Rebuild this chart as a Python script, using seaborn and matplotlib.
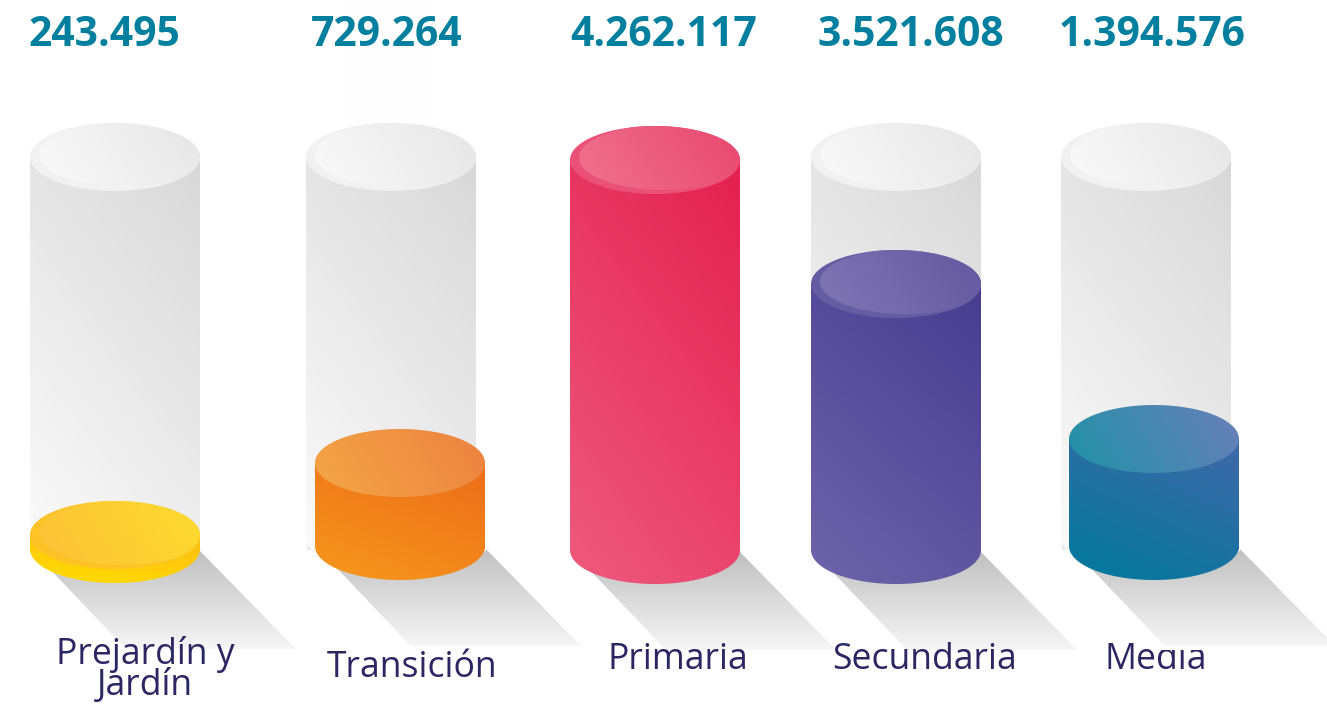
import numpy as np
import pandas as pd
import matplotlib
matplotlib.use("Agg")
import matplotlib.pyplot as plt
from matplotlib.path import Path
from matplotlib.patches import PathPatch
from matplotlib.colors import to_rgb
import seaborn as sns

# ---- data ----
categories = ["Prejardín y\nJardín", "Transición", "Primaria", "Secundaria", "Media"]
students = [243495, 729264, 4262117, 3521608, 1394576]
# drawn fill level of each cylinder (the picture is not proportional to the totals)
fill_levels = [15, 87, 390, 266, 111]
ghost_levels = [393, 393, 393, 393]

# ---- layout and style ----
W, H = 1327, 704
BASE_PX = 550
fill_centers = [115, 400, 655, 896, 1154]
fill_lift = [1, 4, 0, 0, 4]
ghost_centers = [115, 391, 896, 1146]
ghost_lift = [12, 12, 12, 12]
CYL_W = 170
SEMI_B = 34

value_xy = [(104, 36), (387, 36), (664, 36), (911, 36), (1152, 36)]
label_xy = [(145, 670), (412, 668), (678, 660), (925, 660), (1156, 660)]
label_z = [20, 20, 20, 20, 3]  # "Media" is tucked under its shadow in the reference
rims = [True, False, True, True, False]

# body lower-left, body upper-right, rim, top left, top right
fill_style = [
    ("#ffdd00", "#fcbd14", "#fdc226", "#fdc038", "#fcdb2e"),
    ("#f7981d", "#ec6c18", "#ee9a3e", "#f4a646", "#ec8240"),
    ("#ee5a7e", "#e42050", "#eb5078", "#f07490", "#e94870"),
    ("#6e64aa", "#483c90", "#665ca2", "#8278b6", "#64589f"),
    ("#007a9c", "#4068a8", "#2a8aa8", "#1f92a6", "#6a7fba"),
]
ghost_style = ("#fcfcfc", "#d8d8d8", "#f1f1f1", "#fbfbfb", "#e6e6e6")
VALUE_COLOR = "#007f9f"
LABEL_COLOR = "#2c2763"
BODY_ANGLE = (0.35, 0.65)
TOP_ANGLE = (0.8, 0.2)

sns.set_theme(style="white", rc={"font.family": ["Open Sans", "DejaVu Sans"]})
fig = plt.figure(figsize=(W / 100, H / 100), dpi=100)
ax = fig.add_axes([0, 0, 1, 1])

ghost_df = pd.DataFrame({"x": ghost_centers, "level": ghost_levels})
sns.barplot(data=ghost_df, x="x", y="level", native_scale=True, color="#e6e6e6",
            width=CYL_W / np.diff(ghost_centers).min(), saturation=1, ax=ax)
n_ghost = len(ax.patches)
fill_df = pd.DataFrame({"x": fill_centers, "level": fill_levels, "cat": categories})
sns.barplot(data=fill_df, x="x", y="level", hue="cat", native_scale=True, dodge=False,
            palette=[s[1] for s in fill_style], legend=False,
            width=CYL_W / np.diff(fill_centers).min(), saturation=1, ax=ax)
ghost_bars = sorted(ax.patches[:n_ghost], key=lambda p: p.get_x())
fill_bars = sorted(ax.patches[n_ghost:], key=lambda p: p.get_x())


def gradient(path, lo, hi, box, z, angle=(0.5, 0.5)):
    """Linear gradient clipped to a path. lo at lower-left, hi at upper-right."""
    x0, x1, y0, y1 = box
    u, v = np.meshgrid(np.linspace(0, 1, 128), np.linspace(0, 1, 128))
    t = (angle[0] * u + angle[1] * v)[..., None]
    img = (1 - t) * np.array(to_rgb(lo)) + t * np.array(to_rgb(hi))
    im = ax.imshow(img, extent=(x0, x1, y0, y1), origin="lower", aspect="auto", zorder=z,
                   interpolation="bilinear")
    im.set_clip_path(PathPatch(path, transform=ax.transData))
    return im


def ellipse(cx, cy, a, b, n=240):
    th = np.linspace(0, 2 * np.pi, n)
    return Path(np.c_[cx + a * np.cos(th), cy + b * np.sin(th)])


def inner_disc(cx, cy, a, b, dx, dy, db):
    """Offset disc, pulled back so that it stays inside the outer disc."""
    th = np.linspace(0, 2 * np.pi, 360)
    px = cx + dx + a * np.cos(th)
    py = cy + dy + (b - db) * np.sin(th)
    nx, ny = (px - cx) / a, (py - cy) / b
    r = np.maximum(np.hypot(nx, ny), 1)
    return Path(np.c_[cx + a * nx / r, cy + b * ny / r])


def cylinder(bar, lift, style, z, rim=True):
    x0 = bar.get_x()
    x1 = x0 + bar.get_width()
    cx, a = (x0 + x1) / 2, (x1 - x0) / 2
    top, base = bar.get_height(), lift
    th = np.linspace(np.pi, 2 * np.pi, 80)
    arc = np.c_[cx + a * np.cos(th), base + SEMI_B * np.sin(th)]
    body = Path(np.vstack([arc, [[x1, top], [x0, top], arc[0]]]))
    bar.set_zorder(z - 0.5)
    gradient(body, style[0], style[1], (x0, x1, base - SEMI_B, top), z, BODY_ANGLE)
    outer = ellipse(cx, top, a, SEMI_B)
    tbox = (x0, x1, top - SEMI_B, top + SEMI_B)
    if rim:
        ax.add_patch(PathPatch(outer, fc=style[2], ec="none", zorder=z + 0.1))
        gradient(inner_disc(cx, top, a, SEMI_B, 9, 2.5, 1.5), style[3], style[4], tbox, z + 0.2, TOP_ANGLE)
    else:
        gradient(outer, style[3], style[4], tbox, z + 0.2, TOP_ANGLE)


def shadow(bar, lift, z):
    x0 = bar.get_x()
    x1 = x0 + bar.get_width()
    b = lift
    drop = 100
    poly = Path(np.array([[x0 + 14, b - 14], [x0 + 96, b - drop],
                          [x1 + drop - 4, b - drop], [x1, b - 2], [x1 - 85, b - SEMI_B + 6],
                          [x0 + 14, b - 14]]))
    gradient(poly, "#f6f6f6", "#bfbfbf", (x0, x1 + drop, b - drop, b), z, angle=(0, 1))


# faint vertical band of the background art above the second cylinder
ax.fill_between([342, 432], BASE_PX - 125, BASE_PX, color="#fefefe", lw=0, zorder=0.5)
# the artwork's white edge that cuts the tops of the last letters of "Media"
ax.fill_between([1160, 1240], BASE_PX - 650, BASE_PX - 636, color="white", lw=0, zorder=3.5)

for bar, lift in zip(ghost_bars, ghost_lift):
    cylinder(bar, lift, ghost_style, 2)
for bar, lift in zip(fill_bars, fill_lift):
    shadow(bar, lift, 4)
for bar, lift, style, rim in zip(fill_bars, fill_lift, fill_style, rims):
    cylinder(bar, lift, style, 6, rim=rim)

for (x, y), v in zip(value_xy, students):
    ax.text(x, BASE_PX - y, f"{v:,}".replace(",", "."), ha="center", va="center", fontsize=29.4,
            fontweight="bold", color=VALUE_COLOR, zorder=20)
for (x, y), c, z in zip(label_xy, categories, label_z):
    ax.text(x, BASE_PX - y, c, ha="center", va="center", fontsize=25.6, color=LABEL_COLOR,
            linespacing=0.8, zorder=z)

ax.set_xlim(0, W)
ax.set_ylim(BASE_PX - H, BASE_PX)
ax.set_axis_off()
fig.savefig("out.png", dpi=100, facecolor="white")
